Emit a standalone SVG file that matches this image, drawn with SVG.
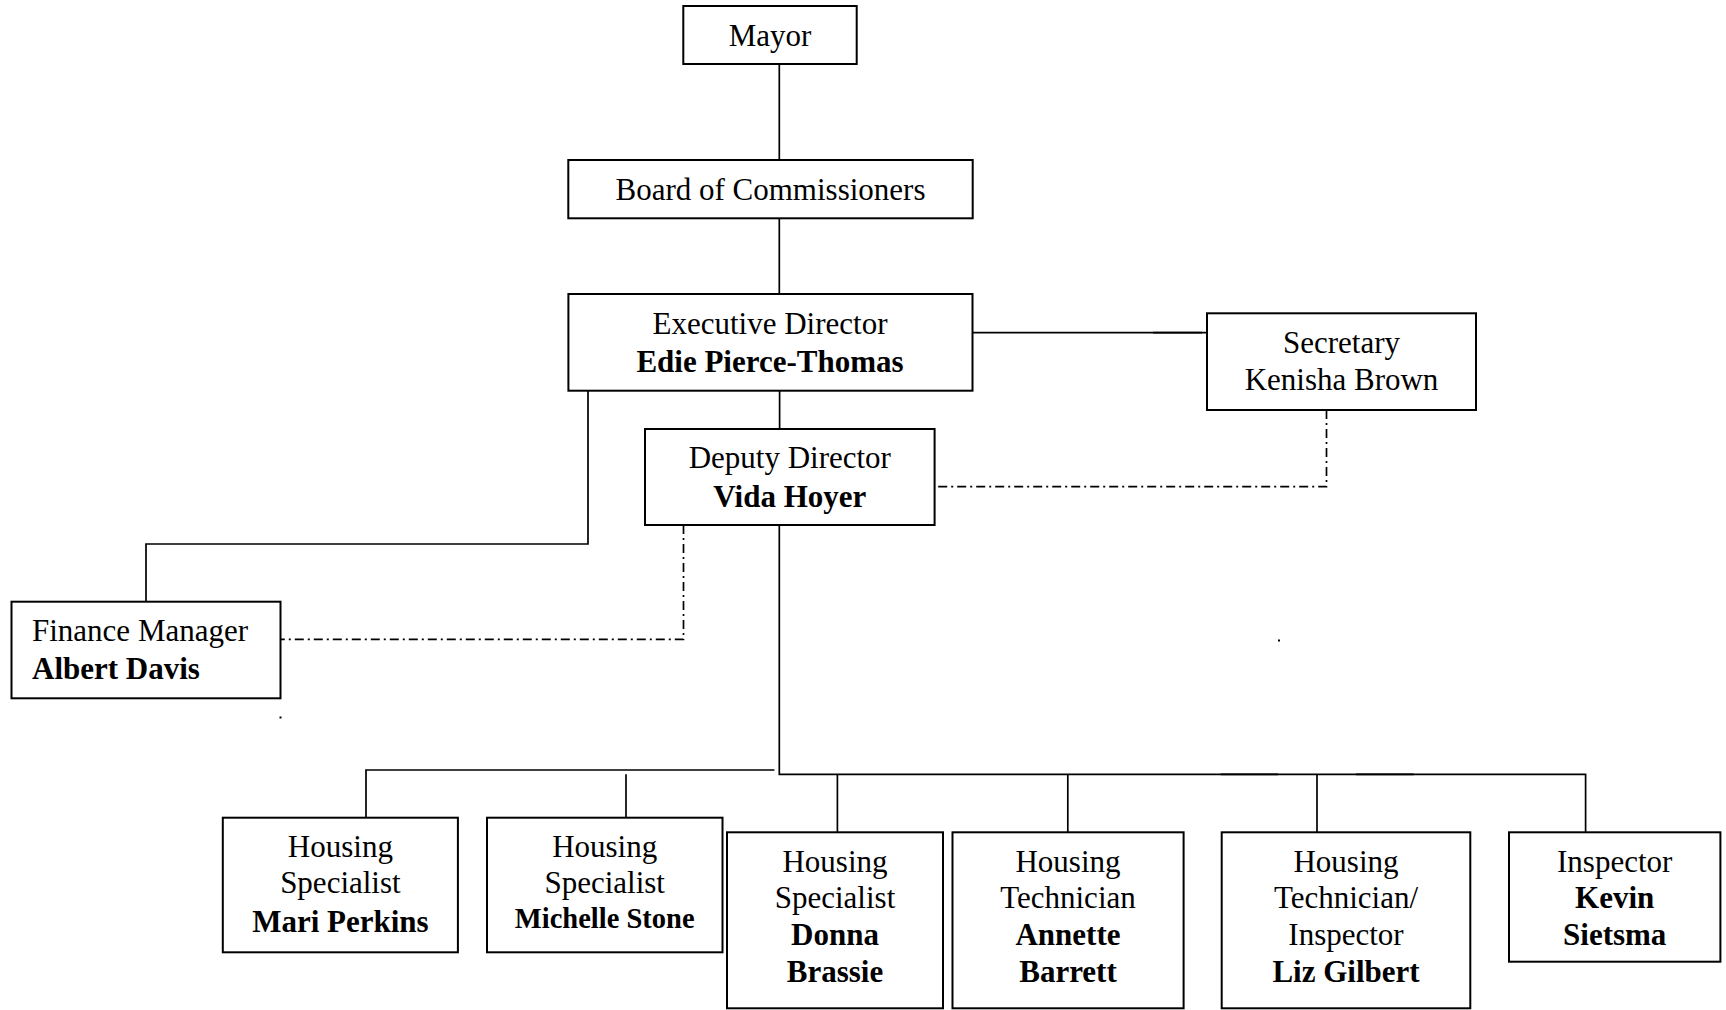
<svg xmlns="http://www.w3.org/2000/svg" width="1726" height="1010" viewBox="0 0 1726 1010">
<style>
.box{fill:#fff;stroke:#000;stroke-width:2}
.t{font-family:"Liberation Serif","Times New Roman",serif;font-size:31px;fill:#000;text-anchor:middle}
.l{text-anchor:start}
.b{font-weight:bold}
.c{fill:none;stroke:#000;stroke-width:1.7}
.d{fill:none;stroke:#000;stroke-width:1.7;stroke-dasharray:9 4 2 4}
</style>
<rect width="1726" height="1010" fill="#fff"/>
<g id="connectors">
<path class="c" d="M779.3 64V160"/>
<path class="c" d="M779.3 218.3V294"/>
<path class="c" d="M972.5 332.7H1207"/>
<path class="c" d="M1153 332.7H1202" stroke-width="2.6"/>
<path class="c" d="M779.6 390.7V429"/>
<path class="c" d="M588 390.7V544H146V601.7"/>
<path class="d" d="M1326.5 410V486.7H934.6"/>
<path class="d" d="M683.5 525V639.3H280.5"/>
<path class="c" d="M779.3 525V774.3H1585.6V832.3"/>
<path class="c" d="M1220.7 774.3H1278M1356 774.3H1413.7" stroke-width="2.4"/>
<path class="c" d="M774.4 770H366V817.7"/>
<path class="c" d="M626 774.3V817.7"/>
<path class="c" d="M837.4 774.3V832.3"/>
<path class="c" d="M1067.8 774.3V832.3"/>
<path class="c" d="M1317 774.3V832.3"/>
<rect x="279.5" y="716.5" width="2" height="2" fill="#000"/>
<rect x="1278" y="639.5" width="2" height="2" fill="#000"/>
</g>
<g id="mayor">
<rect class="box" x="683.3" y="6" width="173.4" height="58"/>
<text class="t" x="770" y="46">Mayor</text>
</g>
<g id="board">
<rect class="box" x="568.3" y="160" width="404.4" height="58.3"/>
<text class="t" x="770.5" y="200">Board of Commissioners</text>
</g>
<g id="executive-director">
<rect class="box" x="568.4" y="294" width="404.1" height="96.7"/>
<text class="t" x="770" y="334">Executive Director</text>
<text class="t b" x="770" y="371.7">Edie Pierce-Thomas</text>
</g>
<g id="secretary">
<rect class="box" x="1207" y="313.3" width="269" height="96.7"/>
<text class="t" x="1341.5" y="353">Secretary</text>
<text class="t" x="1341.5" y="390">Kenisha Brown</text>
</g>
<g id="deputy-director">
<rect class="box" x="645" y="429" width="289.6" height="96"/>
<text class="t" x="789.8" y="468">Deputy Director</text>
<text class="t b" x="789.8" y="506.7">Vida Hoyer</text>
</g>
<g id="finance-manager">
<rect class="box" x="11.5" y="601.7" width="269" height="96.6"/>
<text class="t l" x="32" y="640.5">Finance Manager</text>
<text class="t l b" x="32" y="679.3">Albert Davis</text>
</g>
<g id="mari-perkins">
<rect class="box" x="222.8" y="817.7" width="235.1" height="134.6"/>
<text class="t" x="340.4" y="856.7">Housing</text>
<text class="t" x="340.4" y="893">Specialist</text>
<text class="t b" x="340.4" y="931.7">Mari Perkins</text>
</g>
<g id="michelle-stone">
<rect class="box" x="487" y="817.7" width="235.5" height="134.6"/>
<text class="t" x="604.7" y="856.7">Housing</text>
<text class="t" x="604.7" y="893">Specialist</text>
<text class="t b" x="604.7" y="928.3" style="font-size:28.5px">Michelle Stone</text>
</g>
<g id="donna-brassie">
<rect class="box" x="727" y="832.3" width="216" height="176"/>
<text class="t" x="835" y="871.7">Housing</text>
<text class="t" x="835" y="908.3">Specialist</text>
<text class="t b" x="835" y="945">Donna</text>
<text class="t b" x="835" y="981.7">Brassie</text>
</g>
<g id="annette-barrett">
<rect class="box" x="952.5" y="832.3" width="231.1" height="176"/>
<text class="t" x="1068" y="871.7">Housing</text>
<text class="t" x="1068" y="908.3">Technician</text>
<text class="t b" x="1068" y="945">Annette</text>
<text class="t b" x="1068" y="981.7">Barrett</text>
</g>
<g id="liz-gilbert">
<rect class="box" x="1221.7" y="832.3" width="248.6" height="176"/>
<text class="t" x="1346" y="871.7">Housing</text>
<text class="t" x="1346" y="908.3">Technician/</text>
<text class="t" x="1346" y="945">Inspector</text>
<text class="t b" x="1346" y="981.7">Liz Gilbert</text>
</g>
<g id="kevin-sietsma">
<rect class="box" x="1509" y="832.3" width="211.4" height="129.4"/>
<text class="t" x="1614.7" y="871.7">Inspector</text>
<text class="t b" x="1614.7" y="908.3">Kevin</text>
<text class="t b" x="1614.7" y="945">Sietsma</text>
</g>
</svg>
